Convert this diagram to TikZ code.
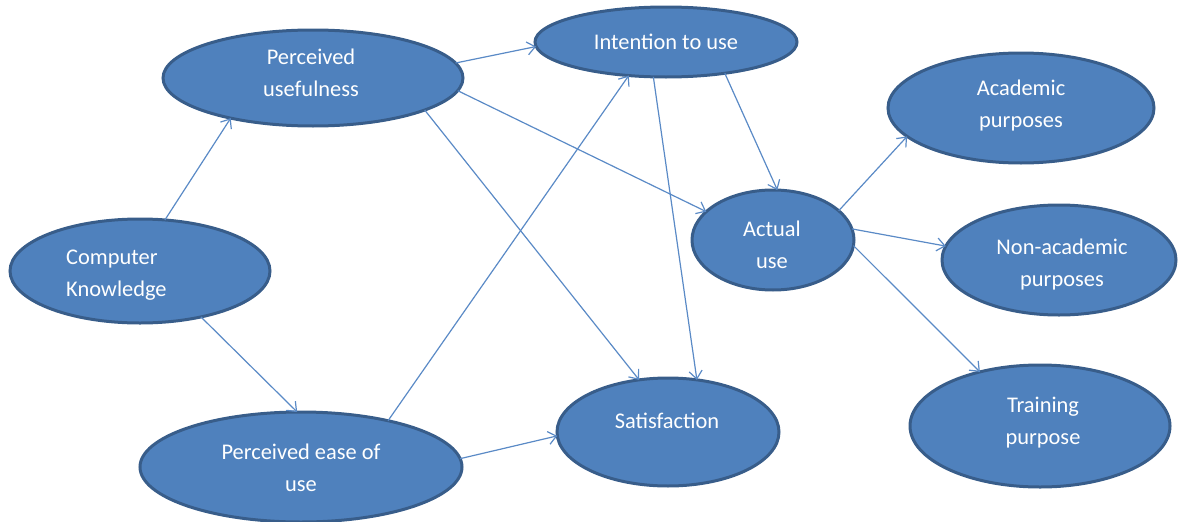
\documentclass[tikz,border=0pt]{standalone}
\usepackage{fontspec}
\setmainfont{Carlito}
\usetikzlibrary{shapes.geometric,arrows.meta}
\definecolor{nodefill}{HTML}{4F81BD}
\definecolor{nodeline}{HTML}{385D8A}
\definecolor{linkblue}{HTML}{5A8AC6}
\begin{document}
\begin{tikzpicture}[x=1pt,y=-1pt,
  concept/.style 2 args={ellipse, fill=nodefill, draw=nodeline, line width=3pt,
    inner sep=0pt, outer sep=0pt, minimum width=#1pt, minimum height=#2pt},
  caption/.style={text=white, font=\fontsize{22.4}{32}\selectfont, align=center, inner sep=0pt},
  link/.style={draw=linkblue, line width=1.2pt, -{Straight Barb[length=8pt,width=13pt]}}]
\useasboundingbox (0,0) rectangle (1178,522);

% concepts
\node[concept={300}{96}]  (pu)  at (313,78)  {};
\node[concept={262}{70}]  (itu) at (666,42)  {};
\node[concept={162}{100}] (au)  at (773,240) {};
\node[concept={260}{104}] (ck)  at (140,271) {};
\node[concept={322}{110}] (peu) at (301,467) {};
\node[concept={222}{108}] (sat) at (668,432) {};
\node[concept={266}{110}] (acp) at (1021,108) {};
\node[concept={234}{110}] (nap) at (1059,260) {};
\node[concept={260}{122}] (trp) at (1040,426) {};

% captions
\node[caption] (pu-t)  at (311,73)  {Perceived\\usefulness};
\node[caption] (itu-t) at (666,42)  {Intention to use};
\node[caption] (au-t)  at (772,245) {Actual\\use};
\node[caption, align=left, anchor=west] (ck-t) at (66,275) {Computer\\Knowledge};
\node[caption] (peu-t) at (301,468) {Perceived ease of\\use};
\node[caption] (sat-t) at (667,421) {Satisfaction};
\node[caption] (acp-t) at (1021,106) {Academic\\purposes};
\node[caption] (nap-t) at (1062,265) {Non-academic\\purposes};
\node[caption] (trp-t) at (1043,423) {Training\\purpose};

% relations
\draw[link] (ck.64)   -- (pu.206);
\draw[link] (ck.-37)  -- (peu.94);
\draw[link] (pu.6)    -- (itu.182);
\draw[link] (pu.-5)   -- (au.157);
\draw[link] (pu.-16)  -- (sat.119);
\draw[link] (peu.28)  -- (itu.222);
\draw[link] (peu.3)   -- (sat.182);
\draw[link] (itu.-28) -- (au.85);
\draw[link] (itu.250) -- (sat.61);
\draw[link] (au.24)   -- (acp.194);
\draw[link] (au.8)    -- (nap.173);
\draw[link] (au.-4)   -- (trp.138);
\end{tikzpicture}
\end{document}
